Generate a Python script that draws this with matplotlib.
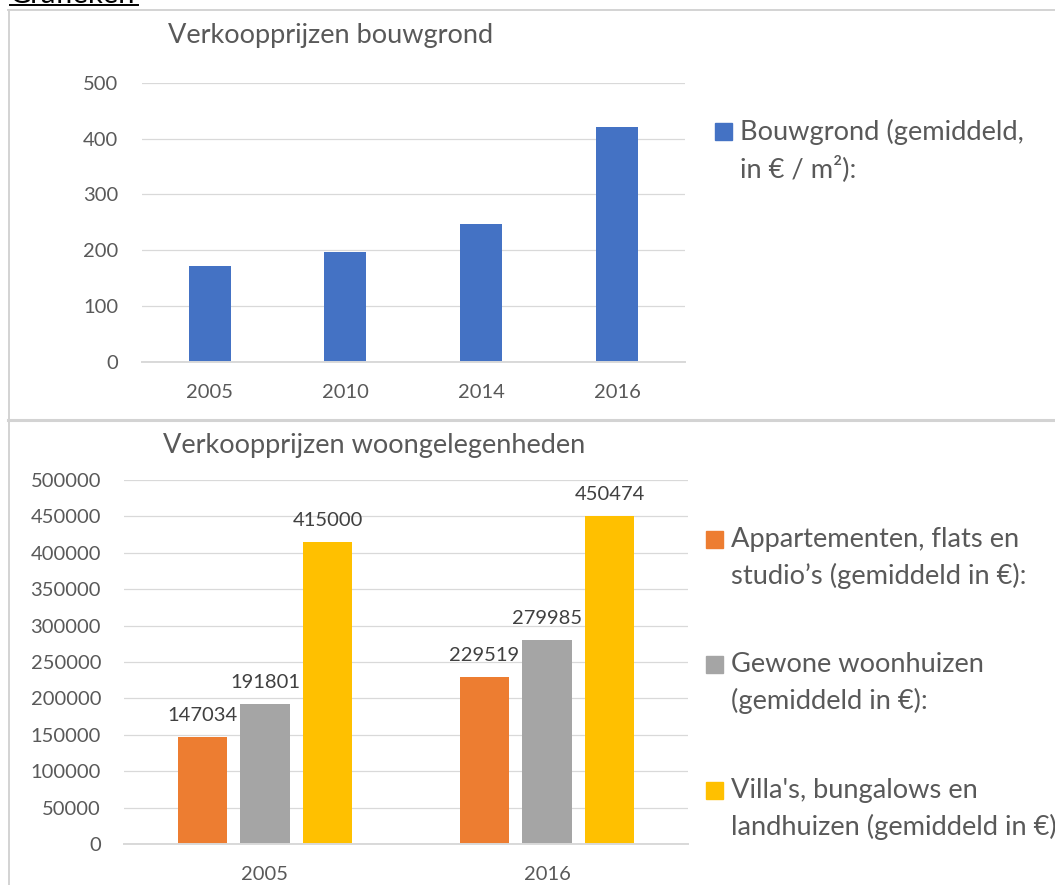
import matplotlib
matplotlib.use("Agg")
import matplotlib.pyplot as plt
from matplotlib.patches import Rectangle
from matplotlib.lines import Line2D

# ---------------- data ----------------
top_title = "Verkoopprijzen bouwgrond"
top_years = ["2005", "2010", "2014", "2016"]
top_values = [172, 196, 247, 420]
top_series = "Bouwgrond (gemiddeld,\nin € / m²):"

bottom_title = "Verkoopprijzen woongelegenheden"
bottom_years = ["2005", "2016"]
appartementen = [147034, 229519]
woonhuizen = [191801, 279985]
villas = [415000, 450474]
bottom_series = [
    "Appartementen, flats en\nstudio’s (gemiddeld in €):",
    "Gewone woonhuizen\n(gemiddeld in €):",
    "Villa's, bungalows en\nlandhuizen (gemiddeld in €):",
]
header = "Grafieken"

# ---------------- style ----------------
W, H = 1055, 885
FONT = "Lato"
TXT = "#595959"
GRID = "#D9D9D9"
BORDER = "#D3D3D3"
BLUE = "#4472C4"
COLORS = ["#ED7D31", "#A5A5A5", "#FFC000"]
TICK_FS = 14.5
TITLE_FS = 19.5
LEG_FS = 19.6

plt.rcParams["font.family"] = [FONT, "DejaVu Sans"]

fig = plt.figure(figsize=(W / 100, H / 100), dpi=100)


def fx(x):
    return x / W


def fy(y):
    return 1 - y / H


def style_axes(ax, ypad_pt, xpad_pt):
    for s in ["left", "right", "top"]:
        ax.spines[s].set_visible(False)
    ax.spines["bottom"].set_color(GRID)
    ax.spines["bottom"].set_linewidth(1.4)
    ax.yaxis.grid(True, color=GRID, linewidth=0.9)
    ax.set_axisbelow(True)
    ax.tick_params(axis="both", length=0, labelsize=TICK_FS, labelcolor=TXT)
    ax.tick_params(axis="y", pad=ypad_pt)
    ax.tick_params(axis="x", pad=xpad_pt)


# ---------------- table borders & header ----------------
fig.add_artist(Line2D([fx(8), 1], [fy(10), fy(10)], color=BORDER, lw=1.4))
fig.add_artist(Line2D([fx(8.8), fx(8.8)], [fy(10), 0], color=BORDER, lw=1.4))
fig.add_artist(Line2D([fx(8), 1], [fy(420), fy(420)], color=BORDER, lw=2.2))
fig.text(fx(10), fy(2.7), header, fontsize=21, color="black", ha="left", va="baseline")
fig.add_artist(Line2D([fx(10), fx(138)], [fy(5), fy(5)], color="black", lw=1.4))

# ---------------- top chart ----------------
ax1 = fig.add_axes([fx(141.7), fy(361.7), (685 - 141.7) / W, (361.7 - 82.7) / H])
x1 = list(range(len(top_years)))
ax1.bar(x1, top_values, width=0.31, color=BLUE)
ax1.set_xlim(-0.5, len(top_years) - 0.5)
ax1.set_ylim(0, 500)
ax1.set_yticks(range(0, 501, 100))
ax1.set_xticks(x1)
ax1.set_xticklabels(top_years)
style_axes(ax1, 16.8, 16)

fig.text(fx(168.3), fy(35), top_title, fontsize=TITLE_FS, color=TXT, ha="left", va="center")

# top legend
fig.add_artist(Rectangle((fx(715), fy(140)), 17 / W, 16.7 / H, color=BLUE, transform=fig.transFigure))
for i, line in enumerate(top_series.split("\n")):
    fig.text(fx(739.5), fy(131.7 + i * 36.6), line, fontsize=LEG_FS, color=TXT, ha="left", va="center")

# ---------------- bottom chart ----------------
ax2 = fig.add_axes([fx(124), fy(844), (688 - 124) / W, (844 - 480) / H])
x2 = list(range(len(bottom_years)))
bw = 0.1755
step = 0.2216
for k, (vals, c) in enumerate(zip([appartementen, woonhuizen, villas], COLORS)):
    pos = [x + (k - 1) * step for x in x2]
    bars = ax2.bar(pos, vals, width=bw, color=c)
    ax2.bar_label(bars, labels=[str(v) for v in vals], padding=9.5, fontsize=TICK_FS, color="#404040")
ax2.set_xlim(-0.5, len(bottom_years) - 0.5)
ax2.set_ylim(0, 500000)
ax2.set_yticks(range(0, 500001, 50000))
ax2.set_yticklabels([str(v) for v in range(0, 500001, 50000)])
ax2.set_xticks(x2)
ax2.set_xticklabels(bottom_years)
style_axes(ax2, 16.5, 15.5)

fig.text(fx(163), fy(445), bottom_title, fontsize=TITLE_FS, color=TXT, ha="left", va="center")

# bottom legend
for k, (lab, c) in enumerate(zip(bottom_series, COLORS)):
    yc = 539.3 + k * 125.5
    fig.add_artist(Rectangle((fx(706), fy(yc + 8.5)), 17 / W, 17 / H, color=c, transform=fig.transFigure))
    for i, line in enumerate(lab.split("\n")):
        fig.text(fx(730.7), fy(yc + i * 36.2), line, fontsize=LEG_FS, color=TXT, ha="left", va="center")

fig.savefig("out.png", dpi=100)
